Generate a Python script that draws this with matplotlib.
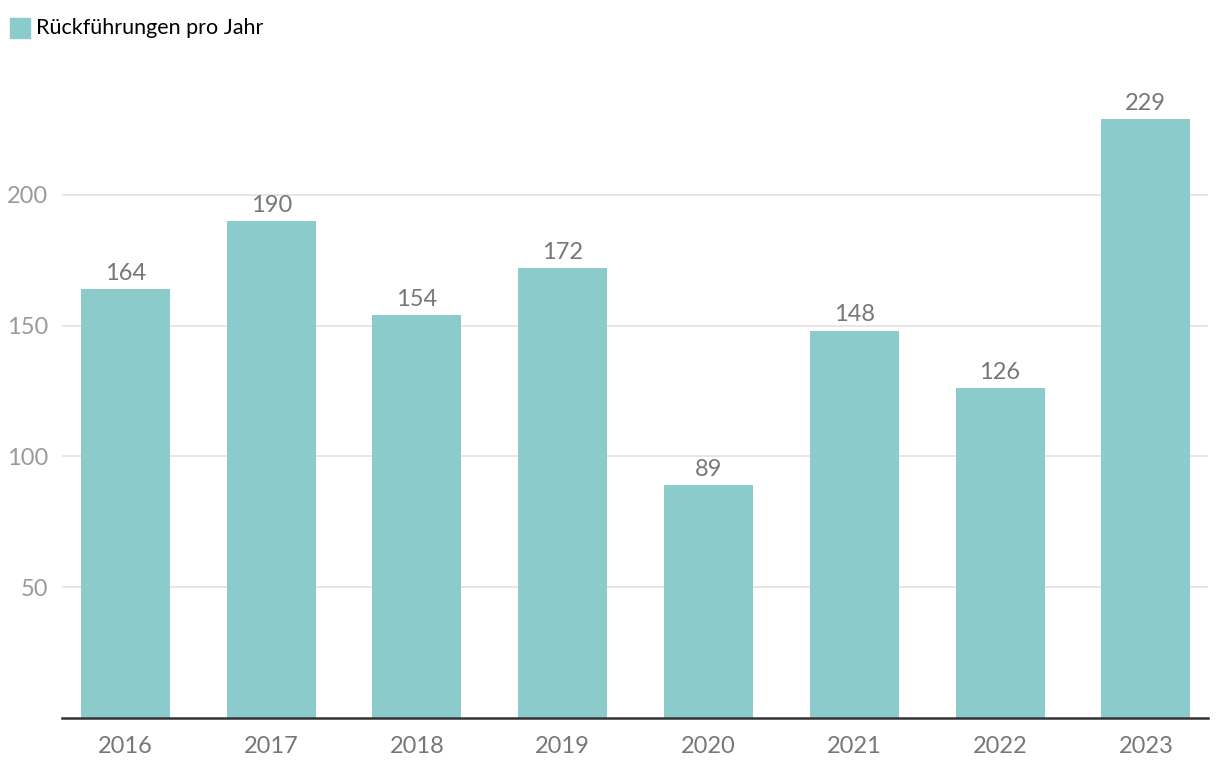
import matplotlib
matplotlib.use("Agg")
import matplotlib.pyplot as plt
from matplotlib.patches import Rectangle

years = ["2016", "2017", "2018", "2019", "2020", "2021", "2022", "2023"]
values = [164, 190, 154, 172, 89, 148, 126, 229]
yticks = [50, 100, 150, 200]
legend_label = "Rückführungen pro Jahr"

bar_color = "#8ccbcb"
plt.rcParams["font.family"] = ["Lato", "DejaVu Sans"]

fig = plt.figure(figsize=(12.2, 7.8), dpi=100)
ax = fig.add_axes([0.0508, 0.0795, 0.9392, 0.8215])

x = range(len(years))
ax.bar(x, values, width=0.61, color=bar_color, zorder=2)
for xi, v in zip(x, values):
    ax.annotate(str(v), (xi, v), xytext=(0, 4), textcoords="offset points",
                ha="center", va="bottom", fontsize=17, color="#777777")

ax.set_xlim(-0.435, 7.425)
ax.set_ylim(0, 245)
ax.set_yticks(yticks)
ax.set_xticks(list(x))
ax.set_xticklabels(years)
ax.grid(axis="y", color="#e2e2e2", linewidth=1.2, zorder=0)
ax.tick_params(axis="y", length=0, labelsize=17, labelcolor="#9a9a9a", pad=10)
ax.tick_params(axis="x", length=0, labelsize=17, labelcolor="#777777", pad=13)
for side in ("top", "right", "left"):
    ax.spines[side].set_visible(False)
ax.spines["bottom"].set_color("#333333")
ax.spines["bottom"].set_linewidth(1.8)
ax.spines["bottom"].set_zorder(3)

# legend
fig.patches.append(Rectangle((10 / 1220, 1 - 38 / 780), 20 / 1220, 20 / 780,
                             transform=fig.transFigure, color=bar_color))
fig.text(36 / 1220, 1 - 28 / 780, legend_label, fontsize=15.5, color="#000000",
         va="center", ha="left")

fig.savefig("out.png", dpi=100, facecolor="white")
